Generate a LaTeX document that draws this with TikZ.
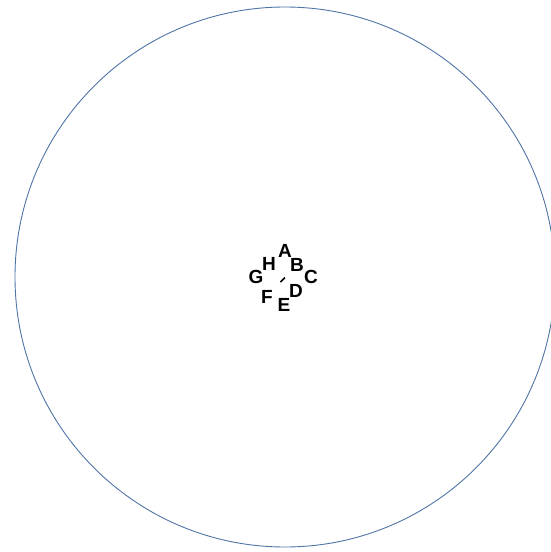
\documentclass[tikz,border=0pt]{standalone}
\usepackage{fontspec}
\setmainfont{Liberation Sans}
\definecolor{ringblue}{HTML}{4F74A6}
\begin{document}
\begin{tikzpicture}[x=1pt,y=-1pt,
  lbl/.style={font=\fontsize{19}{21}\selectfont\bfseries, inner sep=0pt, text=black},
  ring/.style={draw=ringblue, line width=0.9pt}]
\useasboundingbox (0,0) rectangle (551,552);
\clip (0,0) rectangle (551,552);
\draw[ring] (285,277) circle[radius=270];
\node[lbl] (A) at (285,251) {A};
\node[lbl] (B) at (297,265) {B};
\node[lbl] (C) at (311,277) {C};
\node[lbl] (D) at (296,291) {D};
\node[lbl] (E) at (284,305) {E};
\node[lbl] (F) at (267,297) {F};
\node[lbl] (G) at (256,277) {G};
\node[lbl] (H) at (269,264) {H};
\coordinate (m1) at (280.5,282);
\coordinate (m2) at (285,277.5);
\draw[line width=1.6pt, black] (m1) -- (m2);
\end{tikzpicture}
\end{document}
